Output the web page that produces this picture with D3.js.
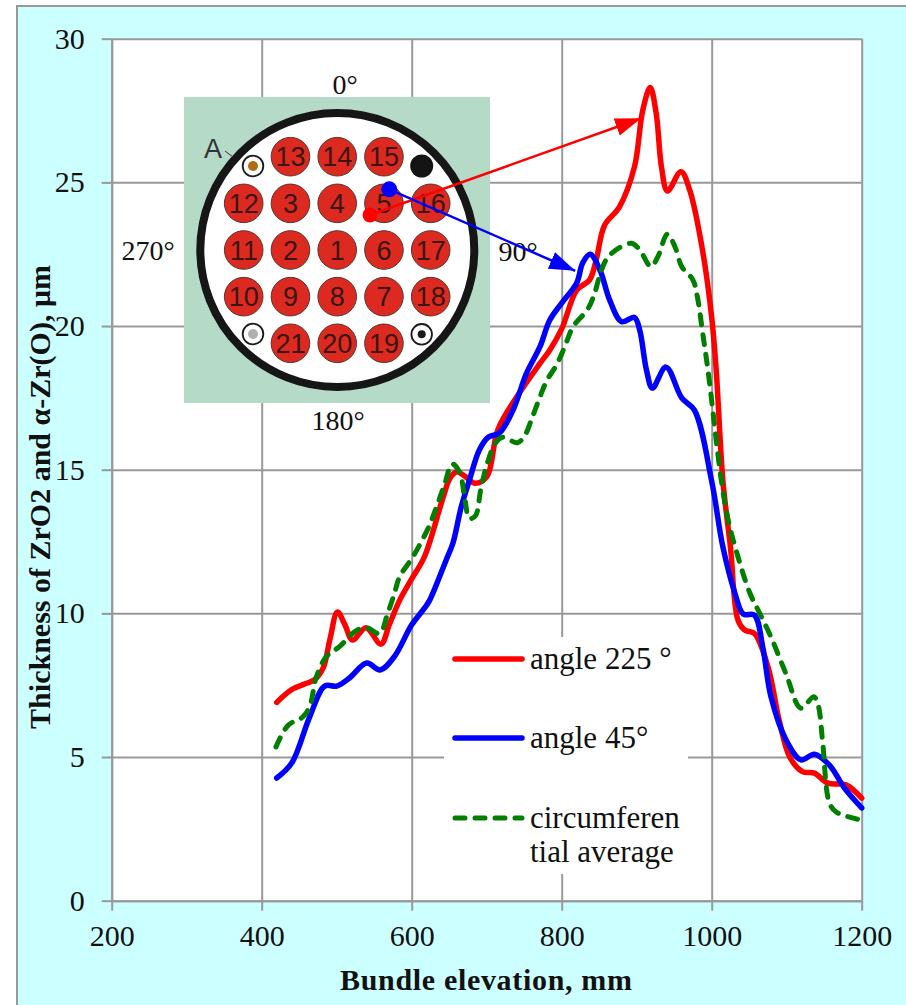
<!DOCTYPE html>
<html>
<head>
<meta charset="utf-8">
<script src="https://d3js.org/d3.v7.min.js"></script>
<style>
  html, body { margin: 0; padding: 0; background: #fff; }
  svg { display: block; }
  text { font-family: "Liberation Serif", serif; fill: #111; }
  .axis text { font-size: 30px; }
  .axis line, .axis path, .grid line { stroke: #999; stroke-width: 2; }
  .grid path { stroke: none; }
  .title { font-size: 30px; font-weight: bold; }
  .legend-label { font-size: 31px; }
  .angle-label { font-size: 28px; }
  .rod-label { font-family: "Liberation Sans", sans-serif; font-size: 27px; fill: #3a1512; }
</style>
</head>
<body>
<div class="chart"></div>
<script>
// values: elevation in mm, thickness in um
var redX = [420, 440, 458, 470, 482, 491, 501, 511, 521, 539, 559, 570, 584, 600, 617, 642, 651, 660, 672, 684, 700, 715, 740, 771, 784, 800, 820, 837, 846, 857, 877, 897, 908, 918, 926, 933, 941, 959, 971, 988, 1000, 1006, 1015, 1025, 1035, 1044, 1057, 1075, 1090, 1104, 1121, 1137, 1155, 1179, 1200];
var redY = [6.9, 7.35, 7.55, 7.68, 8.1, 9.1, 10.05, 9.6, 9.07, 9.5, 8.93, 9.6, 10.46, 11.2, 11.97, 14.05, 14.7, 14.93, 14.75, 14.53, 14.75, 16.4, 17.53, 18.7, 19.16, 19.9, 21.25, 21.6, 22.3, 23.5, 24.15, 25.54, 27.5, 28.3, 27.4, 25.54, 24.7, 25.37, 24.7, 22.6, 20.3, 18.47, 14.6, 12.3, 9.77, 9.42, 9.3, 8.14, 6.28, 5, 4.49, 4.44, 4.09, 4.03, 3.57];

var blueX = [420, 440, 464, 484, 500, 517, 540, 558, 577, 600, 617, 624, 646, 655, 666, 677, 690, 702, 717, 735, 753, 771, 784, 800, 820, 828, 838, 851, 864, 880, 897, 904, 913, 921, 939, 960, 977, 1000, 1015, 1031, 1042, 1057, 1068, 1079, 1099, 1119, 1137, 1157, 1177, 1200];
var blueY = [4.27, 4.79, 6.4, 7.47, 7.47, 7.75, 8.27, 8.03, 8.5, 9.6, 10.18, 10.46, 11.86, 12.45, 13.7, 14.64, 15.68, 16.13, 16.28, 17.07, 18.35, 19.28, 20.2, 20.8, 21.5, 22.2, 22.5, 21.95, 20.9, 20.15, 20.3, 19.86, 18.47, 17.84, 18.57, 17.5, 17.07, 14.6, 12.3, 10.7, 9.98, 9.94, 8.84, 7.1, 5.6, 4.9, 5.1, 4.72, 3.92, 3.23];

var greenX = [419, 435, 455, 464, 473, 486, 504, 526, 540, 557, 568, 577, 584, 600, 613, 624, 633, 644, 654, 664, 671, 677, 685, 692, 700, 711, 721, 741, 751, 761, 771, 780, 793, 804, 815, 835, 844, 853, 864, 893, 904, 919, 928, 941, 951, 960, 975, 981, 988, 995, 1013, 1022, 1035, 1051, 1064, 1079, 1099, 1119, 1136, 1142, 1148, 1157, 1166, 1200];
var greenY = [5.35, 6.1, 6.4, 6.76, 7.8, 8.49, 8.85, 9.4, 9.5, 9.3, 10, 10.7, 11.28, 11.9, 12.5, 13.08, 13.7, 14.5, 15.2, 14.9, 13.95, 13.3, 13.4, 14.3, 15.16, 15.9, 16.13, 15.94, 16.2, 16.84, 17.53, 18.1, 18.64, 19.28, 19.97, 20.6, 21.15, 21.95, 22.47, 22.88, 22.65, 22.07, 22.4, 23.2, 22.76, 22.07, 21.6, 21, 19.75, 18.47, 14.6, 13.25, 11.97, 10.7, 10, 9.18, 7.9, 6.7, 7.1, 6.8, 5.5, 3.4, 3.09, 2.8];

var xTicks = [200, 400, 600, 800, 1000, 1200];
var yTicks = [0, 5, 10, 15, 20, 25, 30];

// rod numbers of the bundle cross section, row by row
var rodRows = [
  [null, 13, 14, 15, null],
  [12, 3, 4, 5, 16],
  [11, 2, 1, 6, 17],
  [10, 9, 8, 7, 18],
  [null, 21, 20, 19, null]
];
var angleLabels = ["0°", "90°", "180°", "270°"];

var svg = d3.select(".chart").append("svg").attr("width", 906).attr("height", 1005),
    margin = {top: 38.7, left: 111.7},
    width = 750,
    height = 862,
    x = d3.scaleLinear().domain([200, 1200]).range([0, width]),
    y = d3.scaleLinear().domain([0, 30]).range([height, 0]),
    g = svg.append("g").attr("transform", `translate(${margin.left},${margin.top})`);

// page background with its grey edge
svg.insert("rect", "g").attr("x", 17).attr("y", 6).attr("width", 900).attr("height", 1010)
  .attr("fill", "#ccffff").attr("stroke", "#999").attr("stroke-width", 2);

g.append("rect").attr("width", width).attr("height", height).attr("fill", "#fff");

g.append("g").attr("class", "grid")
  .call(d3.axisLeft(y).tickValues(yTicks).tickSize(-width).tickFormat(""));
g.append("g").attr("class", "grid")
  .attr("transform", `translate(0,${height})`)
  .call(d3.axisBottom(x).tickValues(xTicks).tickSize(-height).tickFormat(""));

g.append("g").attr("class", "axis")
  .call(d3.axisLeft(y).tickValues(yTicks).tickSize(10).tickSizeOuter(0).tickPadding(17).tickFormat(d3.format("d")));
g.append("g").attr("class", "axis")
  .attr("transform", `translate(0,${height})`)
  .call(d3.axisBottom(x).tickValues(xTicks).tickSize(10).tickSizeOuter(0).tickPadding(14).tickFormat(d3.format("d")));

svg.append("text").attr("class", "title")
  .attr("x", 486).attr("y", 990).attr("text-anchor", "middle")
  .attr("textLength", 292).attr("lengthAdjust", "spacing")
  .text("Bundle elevation, mm");
svg.append("text").attr("class", "title")
  .attr("transform", "translate(50,497) rotate(-90)").attr("text-anchor", "middle")
  .text("Thickness of ZrO2 and α-Zr(O), μm");

// white patch behind the legend hides the grid
svg.append("rect").attr("x", 444).attr("y", 637).attr("width", 244).attr("height", 237).attr("fill", "#fff");

// inset picture of the bundle
var inset = svg.append("g");
inset.append("rect").attr("x", 184).attr("y", 97).attr("width", 306).attr("height", 306).attr("fill", "#b5dbc8");
inset.append("circle").attr("cx", 337.3).attr("cy", 250).attr("r", 137)
  .attr("fill", "#fff").attr("stroke", "#161616").attr("stroke-width", 8);

var colScale = d3.scalePoint().domain([0, 1, 2, 3, 4]).range([243.7, 430.7]);
var rowScale = d3.scalePoint().domain([0, 1, 2, 3, 4]).range([156.7, 343.3]);

rodRows.forEach(function (row, r) {
  row.forEach(function (rod, c) {
    if (rod === null) return;
    inset.append("circle").attr("cx", colScale(c)).attr("cy", rowScale(r)).attr("r", 19.3)
      .attr("fill", "#dc2a20").attr("stroke", "#5a3530").attr("stroke-width", 1);
    inset.append("text").attr("class", "rod-label")
      .attr("x", colScale(c)).attr("y", rowScale(r) + 9.5).attr("text-anchor", "middle")
      .text(rod);
  });
});

function cornerRod(cx, cy, inner, innerR) {
  inset.append("circle").attr("cx", cx).attr("cy", cy).attr("r", 10.3)
    .attr("fill", "#fff").attr("stroke", "#1a1a1a").attr("stroke-width", 1.8);
  inset.append("circle").attr("cx", cx).attr("cy", cy).attr("r", innerR).attr("fill", inner);
}
cornerRod(253, 166, "#b06c10", 5);
cornerRod(253, 334, "#b0b0b0", 5);
cornerRod(421.7, 334.3, "#1a1a1a", 4);
inset.append("circle").attr("cx", 421.7).attr("cy", 166).attr("r", 11.5).attr("fill", "#141414");

inset.append("text").attr("class", "rod-label").attr("x", 204).attr("y", 158)
  .style("font-size", "27px").style("fill", "#333").text("A");
inset.append("line").attr("x1", 225).attr("y1", 151).attr("x2", 233).attr("y2", 157)
  .attr("stroke", "#333").attr("stroke-width", 1);

svg.selectAll(".angle-label").data(angleLabels).enter().append("text")
  .attr("class", "angle-label")
  .attr("text-anchor", "middle")
  .attr("x", (d, i) => [345, 518, 338, 148][i])
  .attr("y", (d, i) => [94, 261, 430, 260][i])
  .text(d => d);

// the three curves
var line = d3.line().x(d => x(d[0])).y(d => y(d[1])).curve(d3.curveCatmullRom.alpha(0.5));

g.append("path").datum(d3.zip(redX, redY))
  .attr("d", line).attr("fill", "none").attr("stroke", "#ff0000").attr("stroke-width", 5.5).attr("stroke-linecap", "round");
g.append("path").datum(d3.zip(blueX, blueY))
  .attr("d", line).attr("fill", "none").attr("stroke", "#0000ff").attr("stroke-width", 5.5).attr("stroke-linecap", "round");
g.append("path").datum(d3.zip(greenX, greenY))
  .attr("d", line).attr("fill", "none").attr("stroke", "#007f00").attr("stroke-width", 5)
  .attr("stroke-linecap", "round").attr("stroke-dasharray", "10 10");

// arrows from the inset to the curves
var defs = svg.append("defs");
[["arrowRed", "#ff0000"], ["arrowBlue", "#0000ff"]].forEach(function (m) {
  defs.append("marker").attr("id", m[0]).attr("markerUnits", "userSpaceOnUse")
    .attr("viewBox", "0 0 26 18").attr("refX", 26).attr("refY", 9)
    .attr("markerWidth", 26).attr("markerHeight", 18).attr("orient", "auto")
    .append("path").attr("d", "M0,0L26,9L0,18Z").attr("fill", m[1]);
});

svg.append("line").attr("x1", 370).attr("y1", 215).attr("x2", x(906) + margin.left).attr("y2", y(27.23) + margin.top)
  .attr("stroke", "#ff0000").attr("stroke-width", 2.5).attr("marker-end", "url(#arrowRed)");
svg.append("line").attr("x1", 389.3).attr("y1", 189.3).attr("x2", x(818) + margin.left).attr("y2", y(21.92) + margin.top)
  .attr("stroke", "#0000ff").attr("stroke-width", 2.5).attr("marker-end", "url(#arrowBlue)");
svg.append("circle").attr("cx", 370).attr("cy", 215).attr("r", 7.5).attr("fill", "#ff0000");
svg.append("circle").attr("cx", 389.3).attr("cy", 189.3).attr("r", 8).attr("fill", "#0000ff");

// legend
var legendLines = [
  {y: 659, color: "#ff0000", w: 5.5, dash: null},
  {y: 738, color: "#0000ff", w: 5.5, dash: null},
  {y: 818, color: "#007f00", w: 5, dash: "10 10"}
];
legendLines.forEach(function (l) {
  svg.append("line").attr("x1", 455).attr("x2", 522).attr("y1", l.y).attr("y2", l.y)
    .attr("stroke", l.color).attr("stroke-width", l.w).attr("stroke-linecap", "round")
    .attr("stroke-dasharray", l.dash);
});
var legendText = [["angle 225 °", 669], ["angle 45°", 748], ["circumferen", 828], ["tial average", 862]];
legendText.forEach(function (t) {
  svg.append("text").attr("class", "legend-label").attr("x", 530).attr("y", t[1]).text(t[0]);
});
</script>
</body>
</html>
